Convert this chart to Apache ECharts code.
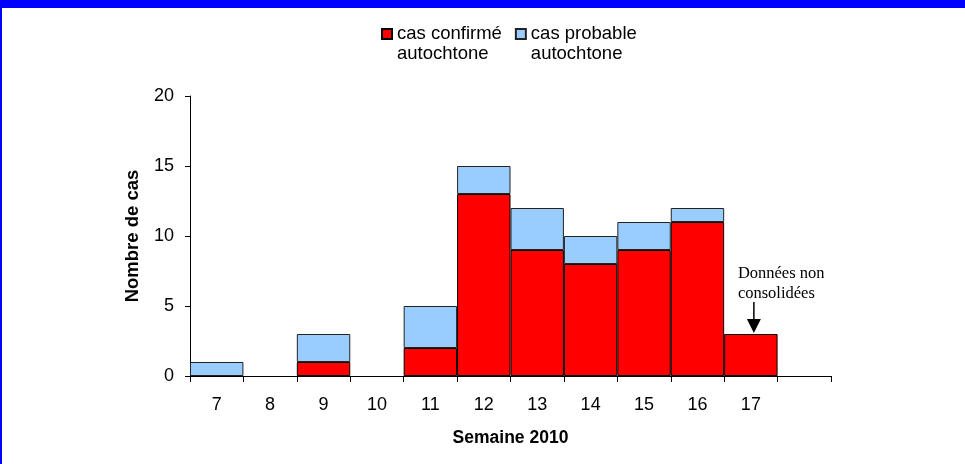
<!DOCTYPE html>
<html>
<head>
<meta charset="utf-8">
<script src="https://cdn.jsdelivr.net/npm/echarts@6/dist/echarts.min.js"></script>
<style>
html,body{margin:0;padding:0;background:#fff;}
#chart{width:965px;height:464px;}
</style>
</head>
<body>
<div id="chart"></div>
<script>
var weeks = ['7','8','9','10','11','12','13','14','15','16','17',''];
var confirmes = [0,0,1,0,2,13,9,8,9,11,3,0];
var probables = [1,0,2,0,3,2,3,2,2,1,0,0];
var yTicks = {min:0, max:20, interval:5};
var legendNames = ['cas confirmé\nautochtone','cas probable\nautochtone'];
var annotation = 'Données non\nconsolidées';
var annotatedIndex = 10;

function noZero(a){ return a.map(function(v){ return v === 0 ? '-' : v; }); }

var chart = echarts.init(document.getElementById('chart'), null, {renderer:'canvas'});
var sans = 'Liberation Sans, Arial, sans-serif';
chart.setOption({
  animation:false,
  backgroundColor:'#ffffff',
  grid:{left:190, right:134, top:96, bottom:88, containLabel:false},
  legend:{
    left:381, top:4, padding:0, itemWidth:10, itemHeight:10, itemGap:13, icon:'rect',
    formatter:function(n){ return '\n' + n; },
    textStyle:{fontFamily:sans, fontSize:18.5, color:'#000', lineHeight:20},
    data:legendNames
  },
  xAxis:{
    type:'category', data:weeks, boundaryGap:true,
    axisLine:{lineStyle:{color:'#000', width:1}},
    axisTick:{show:true, alignWithLabel:false, length:6, lineStyle:{color:'#000'}},
    axisLabel:{fontFamily:sans, fontSize:18, color:'#000', margin:20, interval:0},
    name:'Semaine 2010', nameLocation:'middle', nameGap:53,
    nameTextStyle:{fontFamily:sans, fontSize:17.5, fontWeight:'bold', color:'#000'}
  },
  yAxis:{
    type:'value', min:yTicks.min, max:yTicks.max, interval:yTicks.interval,
    axisLine:{show:true, lineStyle:{color:'#000', width:1}},
    axisTick:{show:true, length:5, lineStyle:{color:'#000'}},
    splitLine:{show:false},
    axisLabel:{fontFamily:sans, fontSize:18, color:'#000', margin:16},
    name:'Nombre de cas', nameLocation:'middle', nameGap:48,
    nameTextStyle:{fontFamily:sans, fontSize:18.5, fontWeight:'bold', color:'#000'}
  },
  series:[
    {name:legendNames[0], type:'bar', stack:'cas', data:noZero(confirmes),
     barWidth:'100%', barCategoryGap:'0%',
     itemStyle:{color:'#FF0000', borderColor:'#000', borderWidth:1}},
    {name:legendNames[1], type:'bar', stack:'cas', data:noZero(probables),
     barWidth:'100%', barCategoryGap:'0%',
     itemStyle:{color:'#99CCFF', borderColor:'#222', borderWidth:1}}
  ]
});

var tip = chart.convertToPixel({gridIndex:0}, [annotatedIndex, confirmes[annotatedIndex] + probables[annotatedIndex]]);
var cx = tip[0] + 3;
var tipY = tip[1] - 1;
chart.setOption({
  graphic:[
    {type:'rect', shape:{x:0, y:0, width:965, height:8}, style:{fill:'#0000FF'}, silent:true},
    {type:'rect', shape:{x:0, y:0, width:2, height:464}, style:{fill:'#0000FF'}, silent:true},
    {type:'line', shape:{x1:cx, y1:tipY-31, x2:cx, y2:tipY-12}, style:{stroke:'#000', lineWidth:1.5}},
    {type:'polygon', shape:{points:[[cx-7,tipY-14],[cx+7,tipY-14],[cx,tipY]]}, style:{fill:'#000'}},
    {type:'text', x:cx-16, y:tipY-69, style:{text:annotation, font:'16.5px "Liberation Serif", serif', fill:'#000', lineHeight:20, align:'left', verticalAlign:'top'}}
  ]
});
</script>
</body>
</html>
